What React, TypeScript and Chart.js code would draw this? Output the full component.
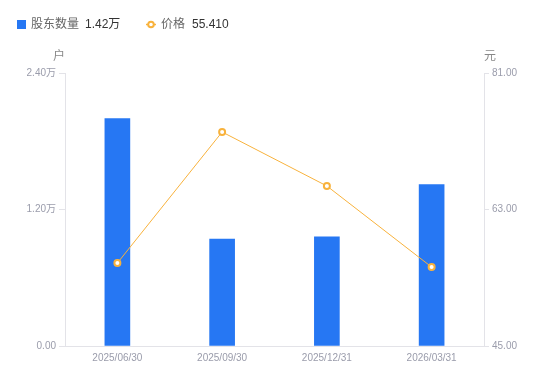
import React, { useEffect, useRef } from "react";
import { Chart, registerables } from "chart.js";

Chart.register(...registerables);

const categories = ["2025/06/30", "2025/09/30", "2025/12/31", "2026/03/31"];
const holders = [2.0, 0.94, 0.96, 1.42];
const prices = [55.94, 73.22, 66.1, 55.41];
const leftTicks = [0, 1.2, 2.4];
const rightTicks = [45, 63, 81];

const FONT = "'Liberation Sans', 'Noto Sans CJK SC', sans-serif";
const BLUE = "#2677f3";
const ORANGE = "#f8b23c";
const TICK_COLOR = "#9a9cab";

const overlay = {
  id: "overlay",
  afterDraw(chart: any) {
    const ctx = chart.ctx;
    ctx.save();
    ctx.textBaseline = "middle";
    ctx.font = `12px ${FONT}`;
    // legend item 1
    ctx.fillStyle = BLUE;
    ctx.fillRect(17, 20, 9, 9);
    let x = 31;
    ctx.fillStyle = "#666";
    ctx.textAlign = "left";
    ctx.fillText("股东数量", x, 25);
    x += ctx.measureText("股东数量").width + 6;
    ctx.fillStyle = "#333";
    const v1 = holders[holders.length - 1].toFixed(2) + "万";
    ctx.fillText(v1, x, 25);
    // legend item 2
    ctx.strokeStyle = ORANGE;
    ctx.lineWidth = 1.5;
    ctx.beginPath();
    ctx.moveTo(146, 24.5);
    ctx.lineTo(156, 24.5);
    ctx.stroke();
    ctx.beginPath();
    ctx.arc(151, 24.5, 2.8, 0, Math.PI * 2);
    ctx.fillStyle = "#fff";
    ctx.fill();
    ctx.lineWidth = 2;
    ctx.stroke();
    ctx.fillStyle = "#666";
    ctx.fillText("价格", 161, 25);
    ctx.fillStyle = "#333";
    ctx.fillText(prices[prices.length - 1].toFixed(3), 161 + ctx.measureText("价格").width + 7, 25);
    // units
    ctx.fillStyle = "#888";
    ctx.textAlign = "center";
    ctx.fillText("户", chart.chartArea.left - 6, 57);
    ctx.fillText("元", chart.chartArea.right + 6, 57);
    ctx.restore();
  },
};

export default function App() {
  const ref = useRef<HTMLCanvasElement>(null);
  useEffect(() => {
    if (!ref.current) return;
    const chart = new Chart(ref.current, {
      type: "bar",
      data: {
        labels: categories,
        datasets: [
          {
            type: "line",
            label: "价格",
            data: prices,
            yAxisID: "y1",
            borderColor: ORANGE,
            borderWidth: 1,
            pointRadius: 3,
            pointBorderWidth: 2,
            pointBackgroundColor: "#fff",
            pointBorderColor: ORANGE,
            tension: 0,
            order: 0,
          } as any,
          {
            type: "bar",
            label: "股东数量",
            data: holders,
            yAxisID: "y",
            backgroundColor: BLUE,
            barThickness: 25,
            order: 1,
          },
        ],
      },
      options: {
        responsive: false,
        animation: false,
        layout: { padding: { top: 73, left: 0, right: 0, bottom: 0 } },
        plugins: { legend: { display: false }, tooltip: { enabled: false } },
        scales: {
          x: {
            grid: { display: false, drawTicks: false },
            border: { display: true, color: "#e3e3e8" },
            ticks: { color: TICK_COLOR, font: { size: 10, family: FONT }, padding: 6, maxRotation: 0 },
            afterFit: (a: any) => { a.height = 35; },
          },
          y: {
            position: "left",
            min: 0,
            max: 2.4,
            afterBuildTicks: (a: any) => { a.ticks = leftTicks.map((v) => ({ value: v })); },
            grid: { drawOnChartArea: false, tickLength: 6, color: "#e3e3e8" },
            border: { display: true, color: "#e3e3e8" },
            ticks: {
              color: TICK_COLOR,
              font: { size: 10, family: FONT },
              padding: 3,
              callback: (v: any) => (Number(v) === 0 ? "0.00" : Number(v).toFixed(2) + "万"),
            },
            afterFit: (a: any) => { a.width = 65; },
          },
          y1: {
            position: "right",
            min: 45,
            max: 81,
            afterBuildTicks: (a: any) => { a.ticks = rightTicks.map((v) => ({ value: v })); },
            grid: { drawOnChartArea: false, tickLength: 5, color: "#e3e3e8" },
            border: { display: true, color: "#e3e3e8" },
            ticks: {
              color: TICK_COLOR,
              font: { size: 10, family: FONT },
              padding: 3,
              callback: (v: any) => Number(v).toFixed(2),
            },
            afterFit: (a: any) => { a.width = 66; },
          },
        },
      },
      plugins: [overlay],
    });
    return () => chart.destroy();
  }, []);
  return (
    <div style={{ position: "fixed", left: 0, top: 0, width: 550, height: 381, background: "#fff" }}>
      <canvas ref={ref} width={550} height={381} style={{ width: 550, height: 381 }} />
    </div>
  );
}
